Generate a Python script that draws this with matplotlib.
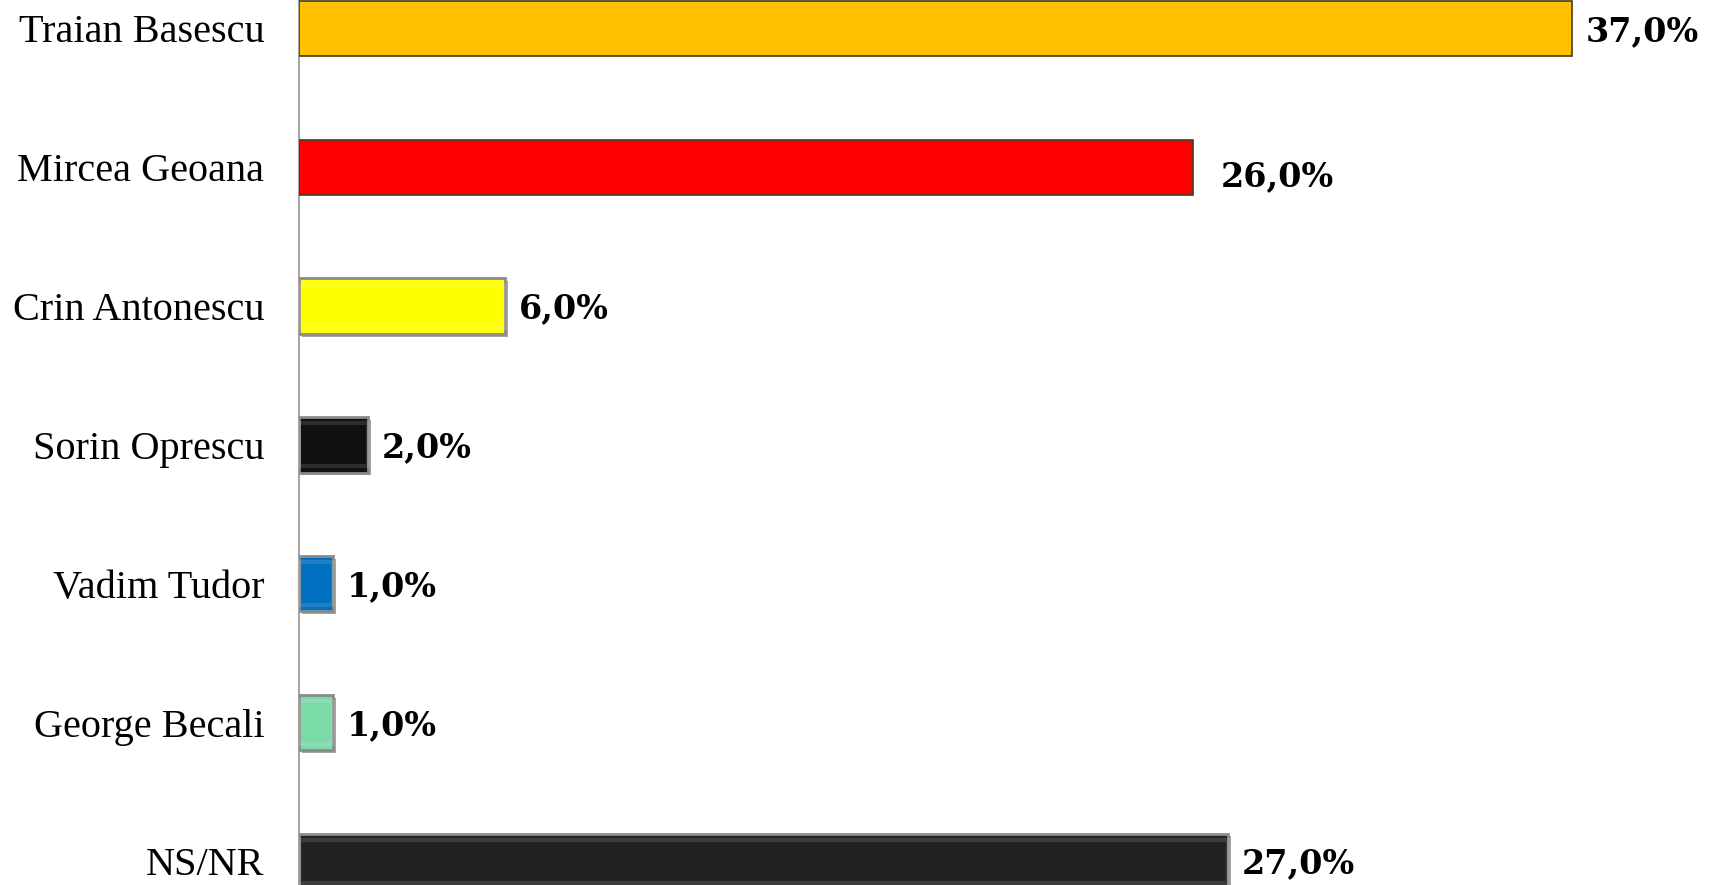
import matplotlib
matplotlib.use("Agg")
import matplotlib.pyplot as plt
import matplotlib.patheffects as pe

categories = ["Traian Basescu", "Mircea Geoana", "Crin Antonescu", "Sorin Oprescu",
              "Vadim Tudor", "George Becali", "NS/NR"]
values = [37.0, 26.0, 6.0, 2.0, 1.0, 1.0, 27.0]
colors = ["#FFC000", "#FF0000", "#FFFF00", "#111111", "#0070C0", "#7ADAA8", "#222222"]
beveled = [False, False, True, True, True, True, True]

W, H = 1717, 885
fig = plt.figure(figsize=(W / 100, H / 100), dpi=100)
ax_left = 299 / W
ax = fig.add_axes([ax_left, 0, 1 - ax_left, 1])

px_per_unit = 34.4
ax.set_xlim(0, (W - 299) / px_per_unit)
row_px = 138.8
first_px = 28.5
ax.set_ylim((H - first_px) / row_px, -first_px / row_px)

ypos = list(range(len(categories)))
for i, (v, c, b) in enumerate(zip(values, colors, beveled)):
    if b:
        bar = ax.barh(i, v, height=0.40, color=c, edgecolor="#8C8C8C", linewidth=2.0, zorder=3)
        for p in bar.patches:
            p.set_path_effects([pe.withSimplePatchShadow(offset=(2, -2), shadow_rgbFace="#9A9A9A", alpha=0.9)])
        ax.barh(i, v, height=0.31, color="none", edgecolor=(1, 1, 1, 0.12), linewidth=3, zorder=4)
    else:
        ax.barh(i, v, height=0.40, color=c, edgecolor="#4A3C1A", linewidth=1.2, zorder=3)

label_nudge = {1: (10, -5)}
for i, v in enumerate(values):
    dx, dy = label_nudge.get(i, (0, 0))
    txt = f"{v:.1f}".replace(".", ",") + "%"
    ax.annotate(txt, xy=(v, i), xytext=(10 + dx, -2 + dy), textcoords="offset points",
                ha="left", va="center", fontsize=24, fontweight="bold",
                family="DejaVu Serif", color="black", zorder=5)

ax.set_yticks(ypos)
ax.set_yticklabels(categories, fontsize=29, family="Liberation Serif")
ax.tick_params(axis="y", length=0, pad=25)
ax.set_xticks([])
for s in ["top", "right", "bottom"]:
    ax.spines[s].set_visible(False)
ax.spines["left"].set_color("#A6A6A6")
ax.spines["left"].set_linewidth(1.5)
ax.patch.set_alpha(0)

fig.savefig("out.png", dpi=100)
